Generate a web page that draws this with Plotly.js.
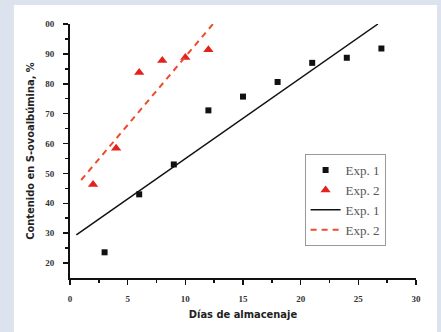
<!DOCTYPE html>
<html><head><meta charset="utf-8">
<script src="https://cdn.plot.ly/plotly-3.0.1.min.js"></script>
<style>html,body{margin:0;padding:0;background:#dde3ee;}#chart{width:441px;height:332px;}</style>
</head><body><div id="chart"></div>
<script>
const exp1Days = [3, 6, 9, 12, 15, 18, 21, 24, 27];
const exp1Values = [23.6, 43.0, 53.0, 71.1, 75.7, 80.6, 87.0, 88.7, 91.8];
const exp2Days = [2, 4, 6, 8, 10, 12];
const exp2Values = [46.3, 58.4, 83.8, 87.8, 88.8, 91.4];
const fit1Days = [0.55, 26.7];
const fit1Values = [29.4, 100];
const fit2Days = [0.97, 12.4];
const fit2Values = [47.8, 100];
const xTickVals = [0, 5, 10, 15, 20, 25, 30];
const xTickText = ['0', '5', '10', '15', '20', '25', '30'];
const yTickVals = [20, 30, 40, 50, 60, 70, 80, 90, 100];
const yTickText = ['20', '30', '40', '50', '60', '70', '80', '90', '00'];

const traces = [
  {x: exp1Days, y: exp1Values, mode: 'markers', name: 'Exp. 1', type: 'scatter',
   marker: {symbol: 'square', size: 6, color: '#111'}},
  {x: exp2Days, y: exp2Values, mode: 'markers', name: 'Exp. 2', type: 'scatter',
   marker: {symbol: 'triangle-up', size: 9, color: '#e3221c'}},
  {x: fit1Days, y: fit1Values, mode: 'lines', name: 'Exp. 1', type: 'scatter',
   line: {color: '#111', width: 1.5}},
  {x: fit2Days, y: fit2Values, mode: 'lines', name: 'Exp. 2', type: 'scatter',
   line: {color: '#ee4a2c', width: 2, dash: '6px,5px'}}
];
const tickFont = {family: 'Liberation Serif, serif', size: 9, color: '#333', weight: 'bold'};
const titleFont = {family: 'DejaVu Sans Condensed, sans-serif', size: 11, color: '#222', weight: 'bold', stretch: 'condensed'};
const layout = {
  width: 441, height: 332,
  margin: {l: 70, r: 25, t: 24, b: 54},
  paper_bgcolor: '#dde3ee', plot_bgcolor: '#ffffff',
  showlegend: true,
  shapes: [{type: 'rect', xref: 'paper', yref: 'paper', x0: -0.162, x1: 1.061, y0: -0.25, y1: 1.075,
            fillcolor: '#ffffff', line: {width: 0}, layer: 'below'}],
  xaxis: {range: [0, 30], tickvals: xTickVals, ticktext: xTickText, showgrid: false, zeroline: false,
          showline: true, linecolor: '#111', linewidth: 2, ticks: 'outside', ticklen: 5, tickwidth: 1.5, tickcolor: '#111',
          minor: {dtick: 2.5, ticks: 'outside', ticklen: 3, tickwidth: 1.5, tickcolor: '#111', showgrid: false},
          tickfont: tickFont, ticklabelstandoff: 6,
          title: {text: 'Días de almacenaje', font: titleFont, standoff: 8}},
  yaxis: {range: [15, 100], tickvals: yTickVals, ticktext: yTickText, showgrid: false, zeroline: false,
          showline: true, linecolor: '#111', linewidth: 2, ticks: 'outside', ticklen: 5, tickwidth: 1.5, tickcolor: '#111',
          minor: {tickvals: [25, 35, 45, 55, 65, 75, 85, 95], ticks: 'outside', ticklen: 3, tickwidth: 1.5, tickcolor: '#111', showgrid: false},
          tickfont: tickFont, ticklabelstandoff: 7,
          title: {text: 'Contenido en S-ovoalbúmina, %', font: titleFont, standoff: 8}},
  legend: {x: 0.678, y: 0.488, xanchor: 'left', yanchor: 'top', bgcolor: '#ffffff',
           bordercolor: '#999', borderwidth: 1, tracegroupgap: 0,
           font: {family: 'Liberation Serif, serif', size: 13, color: '#555'}}
};
Plotly.newPlot('chart', traces, layout, {displayModeBar: false, staticPlot: true});
</script></body></html>
